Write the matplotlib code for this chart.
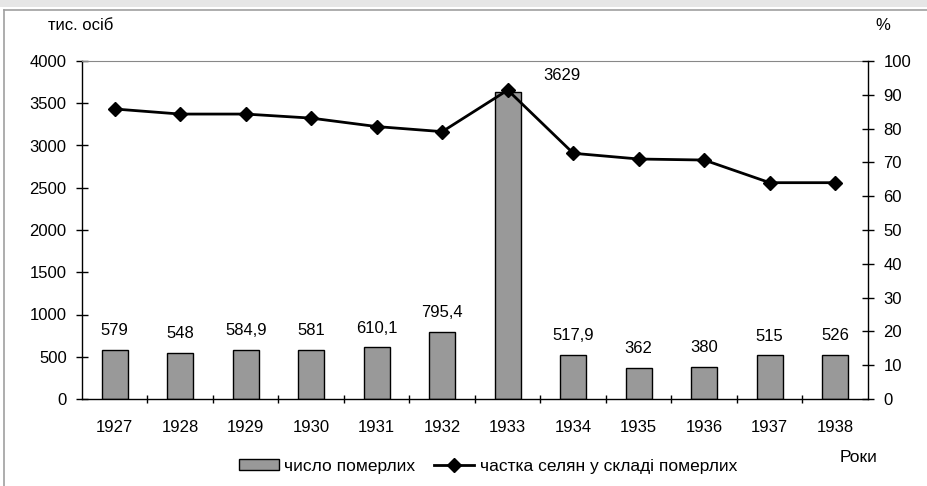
import matplotlib.pyplot as plt
from matplotlib.lines import Line2D
from matplotlib.patches import Rectangle

plt.rcParams['font.family'] = ['Liberation Sans', 'DejaVu Sans']

years = ['1927', '1928', '1929', '1930', '1931', '1932',
         '1933', '1934', '1935', '1936', '1937', '1938']
deaths = [579, 548, 584.9, 581, 610.1, 795.4, 3629, 517.9, 362, 380, 515, 526]
death_labels = ['579', '548', '584,9', '581', '610,1', '795,4',
                '3629', '517,9', '362', '380', '515', '526']
peasant_share = [85.8, 84.3, 84.3, 83.1, 80.6, 79.1, 91.4, 72.7, 71.0, 70.7, 64.0, 64.0]

fig = plt.figure(figsize=(9.28, 4.86), dpi=100)
# outer frame like the source screenshot
fig.patches.append(Rectangle((0, 1 - 7 / 486), 1, 7 / 486, transform=fig.transFigure,
                             facecolor='#e6e6e6', edgecolor='none'))
fig.lines.append(Line2D([4 / 928, 1], [1 - 10 / 486, 1 - 10 / 486], transform=fig.transFigure,
                        color='#a0a0a0', lw=1.2))
fig.lines.append(Line2D([4 / 928, 4 / 928], [0, 1 - 10 / 486], transform=fig.transFigure,
                        color='#a0a0a0', lw=1.2))

ax = fig.add_axes([82 / 928, 1 - 399 / 486, (868 - 82) / 928, (399 - 61) / 486])
x = list(range(len(years)))
bars = ax.bar(x, deaths, width=0.4, color='#999999', edgecolor='black', linewidth=1,
              label='число померлих', zorder=2)
ax.set_xlim(-0.5, len(years) - 0.5)
ax.set_ylim(0, 4000)
ax.set_yticks(range(0, 4001, 500))
ax.set_xticks(x)
ax.set_xticklabels(years)
ax.set_xticks([i + 0.5 for i in x[:-1]], minor=True)
ax.tick_params(axis='x', which='major', length=0, pad=15, labelsize=12)
ax.tick_params(axis='x', which='minor', length=6, direction='inout', width=1)
ax.tick_params(axis='y', direction='inout', length=8, width=1, labelsize=12, pad=7)
for s in ['left', 'bottom']:
    ax.spines[s].set_linewidth(1)
ax.spines['top'].set_color('#888888')
ax.spines['right'].set_visible(False)

for i, (v, t) in enumerate(zip(deaths, death_labels)):
    if i == 6:
        ax.text(i + 0.83, 3830, t, ha='center', va='center', fontsize=12)
    else:
        ax.annotate(t, (i, v), xytext=(0, 14), textcoords='offset points',
                    ha='center', va='center', fontsize=12)

ax2 = ax.twinx()
ax2.plot(x, peasant_share, color='black', lw=2, marker='D', markersize=7,
         label='частка селян у складі померлих', zorder=3)
ax2.set_ylim(0, 100)
ax2.set_yticks(range(0, 101, 10))
ax2.tick_params(axis='y', direction='inout', length=8, width=1, labelsize=12, pad=7)
for s in ['left', 'top', 'bottom']:
    ax2.spines[s].set_visible(False)
ax2.spines['right'].set_linewidth(1)

fig.text(48 / 928, 1 - 26 / 486, 'тис. осіб', fontsize=12, va='center', ha='left')
fig.text(883 / 928, 1 - 26 / 486, '%', fontsize=12, va='center', ha='center')
fig.text(859 / 928, 1 - 457 / 486, 'Роки', fontsize=12.5, va='center', ha='center')

handles = [bars, ax2.get_lines()[0]]
fig.legend(handles, [h.get_label() for h in handles], loc='center',
           bbox_to_anchor=(488 / 928, 1 - 466 / 486), ncol=2, frameon=False,
           fontsize=12.5, handlelength=2.3, handleheight=0.6, handletextpad=0.3,
           columnspacing=1.1)

fig.savefig('out.png', dpi=100)
